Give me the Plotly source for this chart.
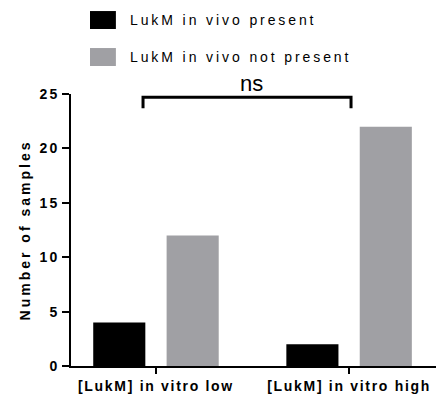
import plotly.graph_objects as go

categories = ["[LukM] in vitro low", "[LukM] in vitro high"]
present = [4, 2]
not_present = [12, 22]
series_names = ["LukM in vivo present", "LukM in vivo not present"]
series_colors = ["#000000", "#a0a0a4"]
y_ticks = [0, 5, 10, 15, 20, 25]
y_max = 25


def spaced(t, ls, bold=False):
    s = f'<span style="letter-spacing:{ls}px">{t}</span>'
    return f"<b>{s}</b>" if bold else s


fig = go.Figure()
for name, vals, col in zip(series_names, [present, not_present], series_colors):
    fig.add_trace(go.Bar(x=[0, 1], y=vals, name=name, marker=dict(color=col, line=dict(width=0)),
                         showlegend=False))

fig.update_layout(
    width=441, height=401,
    margin=dict(l=71, r=5, t=94, b=35),
    paper_bgcolor="white", plot_bgcolor="white",
    barmode="group", bargap=0.24, bargroupgap=0.29,
    font=dict(family="Arial, Liberation Sans, sans-serif", color="black", size=14),
    xaxis=dict(range=[-0.44, 1.45], tickmode="array", tickvals=[0, 1],
               ticktext=[spaced(c, 1.7, True) for c in categories],
               showline=True, linecolor="black", linewidth=2,
               ticks="outside", ticklen=6, tickwidth=2, tickcolor="black",
               showgrid=False, zeroline=False, tickfont=dict(size=14)),
    yaxis=dict(range=[0, y_max], tickmode="array", tickvals=y_ticks,
               ticktext=[spaced(str(v), 2, True) for v in y_ticks],
               showline=True, linecolor="black", linewidth=2,
               ticks="outside", ticklen=7, tickwidth=2, tickcolor="black",
               showgrid=False, zeroline=False, tickfont=dict(size=14),
               title=dict(text=spaced("Number of samples", 3, True), font=dict(size=14), standoff=6)),
)

# legend drawn manually
leg_y = [(1.305, 1.239, 1.272), (1.169, 1.103, 1.136)]
for (y1, y0, yc), name, col in zip(leg_y, series_names, series_colors):
    fig.add_shape(type="rect", xref="paper", yref="paper", x0=0.052, x1=0.123, y0=y0, y1=y1,
                  fillcolor=col, line=dict(width=0))
    fig.add_annotation(xref="paper", yref="paper", x=0.156, y=yc, xanchor="left", yanchor="middle",
                       text=spaced(name, 2.9), showarrow=False, font=dict(size=14))

# significance bracket
fig.add_shape(type="path", xref="x", yref="y",
              path="M -0.067,23.7 L -0.067,24.7 L 1.01,24.7 L 1.01,23.7",
              line=dict(color="black", width=3))
fig.add_annotation(xref="x", yref="paper", x=0.497, y=26.0 / y_max, text="ns", showarrow=False,
                   yanchor="middle",
                   font=dict(size=22, family="Liberation Sans Narrow, Arial Narrow, Arial"))

fig.write_html("out.html")
